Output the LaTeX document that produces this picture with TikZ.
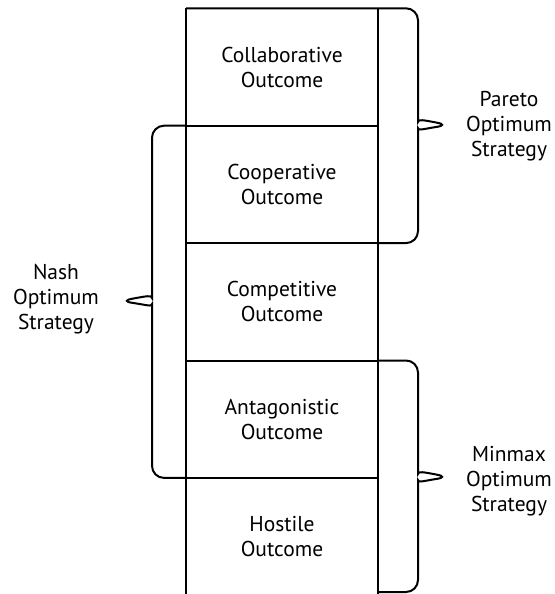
\documentclass[tikz,border=0pt]{standalone}
\usepackage{fontspec}
\setmainfont{PT Sans}
\usepackage{tikz}
\usetikzlibrary{positioning, calc}

\begin{document}
\begin{tikzpicture}[
    x=1pt, y=-1pt,
    line width=2pt,
    % Outcome boxes of the column
    outcomebox/.style={
        rectangle,
        minimum width=192pt,
        minimum height=117.4pt,
        inner sep=0pt,
        outer sep=0pt,
        align=center,
        font=\fontsize{21.5}{25}\selectfont
    },
    sidetext/.style={
        align=center,
        font=\fontsize{21.5}{25}\selectfont
    },
    bracepath/.style={
        line width=2pt,
        rounded corners=12pt
    }
]
    \useasboundingbox (0,0) rectangle (554,594);

    % Nodes - the stack of outcomes
    \node[outcomebox] (collab) at (282,67) {Collaborative\\Outcome};
    \node[outcomebox, below=0pt of collab] (coop) {Cooperative\\Outcome};
    \node[outcomebox, below=0pt of coop] (comp) {Competitive\\Outcome};
    \node[outcomebox, below=0pt of comp] (antag) {Antagonistic\\Outcome};
    \node[outcomebox, below=0pt of antag] (host) {Hostile\\Outcome};

    % Strategy texts
    \node[sidetext] (pareto) at (509,126) {Pareto\\Optimum\\Strategy};
    \node[sidetext] (nash) at (56,299) {Nash\\Optimum\\Strategy};
    \node[sidetext] (minmax) at (509,481) {Minmax\\Optimum\\Strategy};

    % Column lines
    \draw (collab.north west) -- (host.south west);
    \draw (collab.north east) -- (host.south east);
    \draw (collab.south west) -- (collab.south east);
    \draw (coop.south west) -- (coop.south east);
    \draw (comp.south west) -- (comp.south east);
    \draw (antag.south west) -- (antag.south east);

    % Braces
    \draw[bracepath] (collab.north west) -- (collab.north east) -| (418,110)
        .. controls (418,119) and (423,120) .. (449,125)
        .. controls (423,129) and (418,131) .. (418,140)
        |- (coop.south east);
    \draw[bracepath] (coop.north west) -| (152,286)
        .. controls (152,295) and (147,296) .. (120,301)
        .. controls (147,305) and (152,307) .. (152,316)
        |- (antag.south west);
    \draw[bracepath] (antag.north east) -| (418,462)
        .. controls (418,471) and (423,472) .. (449,477)
        .. controls (423,481) and (418,483) .. (418,492)
        |- (378,592);

\end{tikzpicture}
\end{document}
